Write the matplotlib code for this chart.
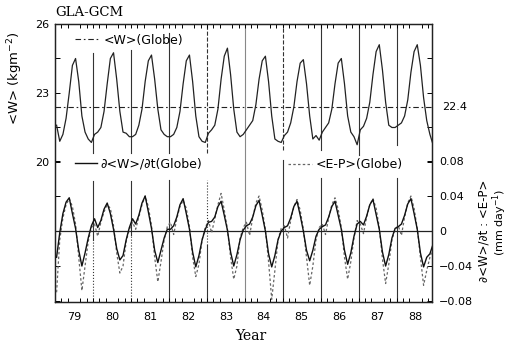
import numpy as np
import matplotlib
matplotlib.use("Agg")
import matplotlib.pyplot as plt
from matplotlib.lines import Line2D

# ---------------- data (monthly, Jan..Dec, 1979-1988) ----------------
year_labels = ["79", "80", "81", "82", "83", "84", "85", "86", "87", "88"]

w_globe = [
    21.6, 20.9, 21.2, 21.9, 23.0, 24.2, 24.5, 23.5, 22.0, 21.3, 21.0, 20.85,   # 79
    21.2, 21.3, 21.5, 22.2, 23.4, 24.5, 24.75, 23.6, 22.2, 21.3, 21.25, 21.1,  # 80
    21.1, 21.2, 21.6, 22.3, 23.5, 24.4, 24.65, 23.6, 22.3, 21.4, 21.2, 21.1,   # 81
    21.1, 21.2, 21.5, 22.2, 23.4, 24.4, 24.65, 23.5, 22.0, 21.1, 20.9, 20.85,  # 82
    21.25, 21.4, 21.6, 22.3, 23.6, 24.6, 24.95, 23.8, 22.3, 21.3, 21.1, 21.2,  # 83
    21.4, 21.6, 21.8, 22.5, 23.6, 24.4, 24.6, 23.5, 22.0, 21.0, 20.9, 20.85,   # 84
    21.15, 21.3, 21.7, 22.4, 23.5, 24.3, 24.45, 23.4, 22.0, 21.0, 21.15, 20.95,# 85
    21.3, 21.5, 21.7, 22.3, 23.4, 24.3, 24.5, 23.4, 22.0, 21.3, 21.1, 20.75,   # 86
    21.4, 21.55, 21.9, 22.6, 23.8, 24.8, 25.1, 24.0, 22.6, 21.6, 21.5, 21.5,   # 87
    21.6, 21.7, 22.0, 22.7, 23.9, 24.8, 25.1, 24.2, 22.8, 21.8, 21.2, 20.75,   # 88
]

dwdt_globe = [
    -0.030, -0.002, 0.020, 0.033, 0.038, 0.020, 0.003, -0.022, -0.040, -0.025, -0.008, 0.006,  # 79
    0.014, 0.004, 0.012, 0.025, 0.032, 0.020, 0.002, -0.020, -0.033, -0.028, -0.010, 0.004,    # 80
    0.014, 0.008, 0.018, 0.032, 0.040, 0.022, 0.003, -0.022, -0.036, -0.022, -0.008, 0.002,    # 81
    0.002, 0.006, 0.016, 0.030, 0.037, 0.020, 0.002, -0.024, -0.041, -0.028, -0.010, 0.002,    # 82
    0.010, 0.011, 0.016, 0.028, 0.034, 0.018, 0.001, -0.024, -0.040, -0.027, -0.010, 0.001,    # 83
    0.006, 0.008, 0.016, 0.029, 0.035, 0.018, 0.000, -0.026, -0.041, -0.028, -0.010, 0.000,    # 84
    0.004, 0.006, 0.015, 0.028, 0.034, 0.018, 0.000, -0.022, -0.034, -0.022, -0.006, 0.002,    # 85
    0.005, 0.007, 0.016, 0.028, 0.034, 0.018, 0.002, -0.022, -0.038, -0.025, -0.006, 0.008,    # 86
    0.011, 0.007, 0.017, 0.030, 0.036, 0.019, 0.002, -0.024, -0.040, -0.027, -0.008, 0.003,    # 87
    0.005, 0.008, 0.018, 0.031, 0.037, 0.020, 0.002, -0.025, -0.041, -0.030, -0.026, -0.015,   # 88
]

ep_globe = [
    -0.070, -0.010, 0.015, 0.030, 0.037, 0.028, 0.008, -0.030, -0.068, -0.040, -0.012, 0.004,  # 79
    0.008, -0.006, 0.010, 0.022, 0.030, 0.026, 0.006, -0.025, -0.048, -0.040, -0.012, 0.002,   # 80
    0.010, 0.002, 0.016, 0.030, 0.040, 0.028, 0.006, -0.030, -0.058, -0.035, -0.010, 0.005,    # 81
    0.010, -0.004, 0.014, 0.028, 0.035, 0.026, 0.005, -0.030, -0.052, -0.038, -0.010, 0.004,   # 82
    0.012, -0.002, 0.014, 0.030, 0.043, 0.024, 0.002, -0.030, -0.055, -0.040, -0.008, 0.004,   # 83
    0.010, -0.005, 0.015, 0.032, 0.040, 0.024, 0.002, -0.035, -0.078, -0.045, -0.010, 0.003,   # 84
    0.006, -0.008, 0.012, 0.028, 0.036, 0.024, 0.002, -0.030, -0.062, -0.040, -0.010, 0.004,   # 85
    0.008, -0.004, 0.015, 0.030, 0.038, 0.025, 0.004, -0.030, -0.055, -0.035, -0.008, 0.012,   # 86
    0.008, -0.003, 0.016, 0.030, 0.037, 0.026, 0.004, -0.032, -0.060, -0.038, -0.010, 0.002,   # 87
    0.006, -0.005, 0.016, 0.032, 0.040, 0.026, 0.003, -0.030, -0.062, -0.045, -0.030, -0.020,  # 88
]

w_mean = 22.4

# time axis: years since Jan 1979, mid-month
t = (np.arange(len(w_globe)) + 0.5) / 12.0
year_bounds = np.arange(1, len(year_labels))

# ---------------- figure ----------------
plt.rcParams['font.family'] = ['DejaVu Sans']
fig = plt.figure(figsize=(5.11, 3.48), dpi=100)
ax = fig.add_axes([55/511, 1-302/348, 377/511, 278/348])
ax2 = ax.twinx()

ink = '#222222'

# W series
ax.plot(t, w_globe, color=ink, lw=0.9, zorder=3)
ax.axhline(w_mean, color=ink, lw=0.8, ls=(0, (5, 2.5, 1.5, 2.5)), zorder=2)
ax.set_xlim(0, 9.93)
ax.set_ylim(13.913, 26)

# derivative and E-P
ax2.plot(t, ep_globe, color='#666666', lw=0.9, ls=(0, (2, 1.8)), zorder=3)
ax2.plot(t, dwdt_globe, color='#111111', lw=1.0, zorder=4)
ax2.axhline(0, color=ink, lw=0.9, zorder=2)
ax2.set_ylim(-0.0811, 0.2366)

# vertical year-boundary segments (axes fraction extents)
seg_styles = [
    (1, 0.536, 0.896, '-'), (1, 0.223, 0.435, '-'), (1, 0.0, 0.223, ':'),
    (2, 0.536, 0.906, '-'), (2, 0.241, 0.435, '-'), (2, 0.0, 0.241, ':'),
    (3, 0.536, 0.968, '-'), (3, 0.0, 0.439, '-'),
    (4, 0.536, 1.0, '--'), (4, 0.205, 0.439, ':'), (4, 0.0, 0.205, '-'),
    (5, 0.0, 1.0, '-'),
    (6, 0.547, 1.0, '--'), (6, 0.0, 0.511, '-'),
    (7, 0.547, 1.0, '-'), (7, 0.0, 0.446, '-'),
    (8, 0.529, 1.0, '-'), (8, 0.0, 0.446, '-'),
    (9, 0.565, 1.0, '-'), (9, 0.0, 0.446, '-'),
]
for k, y0, y1, ls in seg_styles:
    col = '#888888' if k == 5 else '#333333'
    ax.axvline(year_bounds[k-1], ymin=y0, ymax=y1, color=col, lw=0.8, ls=ls, zorder=1)

# ---------------- ticks ----------------
ax.set_xticks(np.arange(len(year_labels)) + 0.5)
ax.set_xticklabels(year_labels, fontsize=8)
ax.set_xticks(np.arange(0, 10, 1/6), minor=True)
ax.tick_params(axis='x', which='major', length=0, pad=7)
ax.tick_params(axis='x', which='minor', direction='in', length=3, width=0.7,
               top=True, bottom=True)

ax.set_yticks([20, 23, 26])
ax.set_yticklabels(['20', '23', '26'], fontsize=8)
ax.set_yticks([21.5, 24.5], minor=True)
ax.tick_params(axis='y', which='both', direction='in', length=3.5, width=0.7,
               left=True, right=True, labelright=False, pad=4)

ax2.set_yticks([-0.08, -0.04, 0, 0.04, 0.08])
ax2.set_yticklabels(['−0.08', '−0.04', '0', '0.04', '0.08'], fontsize=8)
ax2.tick_params(axis='y', direction='in', length=3.5, width=0.7,
                left=True, right=True, labelleft=False, labelright=True, pad=5)

for a in (ax, ax2):
    for s in a.spines.values():
        s.set_linewidth(0.9)
        s.set_color(ink)

# 22.4 annotation at the mean line
ax.text(1.028, w_mean, '22.4', transform=ax.get_yaxis_transform(),
        ha='left', va='center', fontsize=8)

# ---------------- legends ----------------
leg1 = ax.legend([Line2D([], [], color=ink, lw=0.8, ls=(0, (5, 2.5, 1.5, 2.5)))],
                 ['<W>(Globe)'], loc='center left', bbox_to_anchor=(0.053, 0.942),
                 frameon=False, fontsize=9, handlelength=2.0, handletextpad=0.3,
                 borderpad=0, borderaxespad=0)
ax.add_artist(leg1)
ax.legend([Line2D([], [], color='#111111', lw=1.0)],
          ['∂<W>/∂t(Globe)'], loc='center left', bbox_to_anchor=(0.053, 0.496),
          frameon=False, fontsize=9, handlelength=1.75, handletextpad=0.3,
          borderpad=0, borderaxespad=0)
ax2.legend([Line2D([], [], color='#666666', lw=0.9, ls=(0, (2, 1.8)))],
           ['<E-P>(Globe)'], loc='center left', bbox_to_anchor=(0.618, 0.493),
           frameon=False, fontsize=9, handlelength=1.9, handletextpad=0.3,
           borderpad=0, borderaxespad=0)

# ---------------- labels ----------------
fig.text(15/511, 1-78/348, '<W> (kgm$^{-2}$)', rotation=90, ha='center', va='center',
         fontsize=9.5)
fig.text(484/511, 1-231/348, '∂<W>/∂t : <E-P>', rotation=90, ha='center', va='center',
         fontsize=8.5)
fig.text(500/511, 1-222/348, '(mm day$^{-1}$)', rotation=90, ha='center', va='center',
         fontsize=8)
fig.text(55/511, 1-13/348, 'GLA-GCM', ha='left', va='center', fontsize=9.5,
         family='DejaVu Serif')
fig.text(251/511, 1-336/348, 'Year', ha='center', va='center', fontsize=10,
         family='DejaVu Serif')

fig.savefig('out.png', dpi=100)
